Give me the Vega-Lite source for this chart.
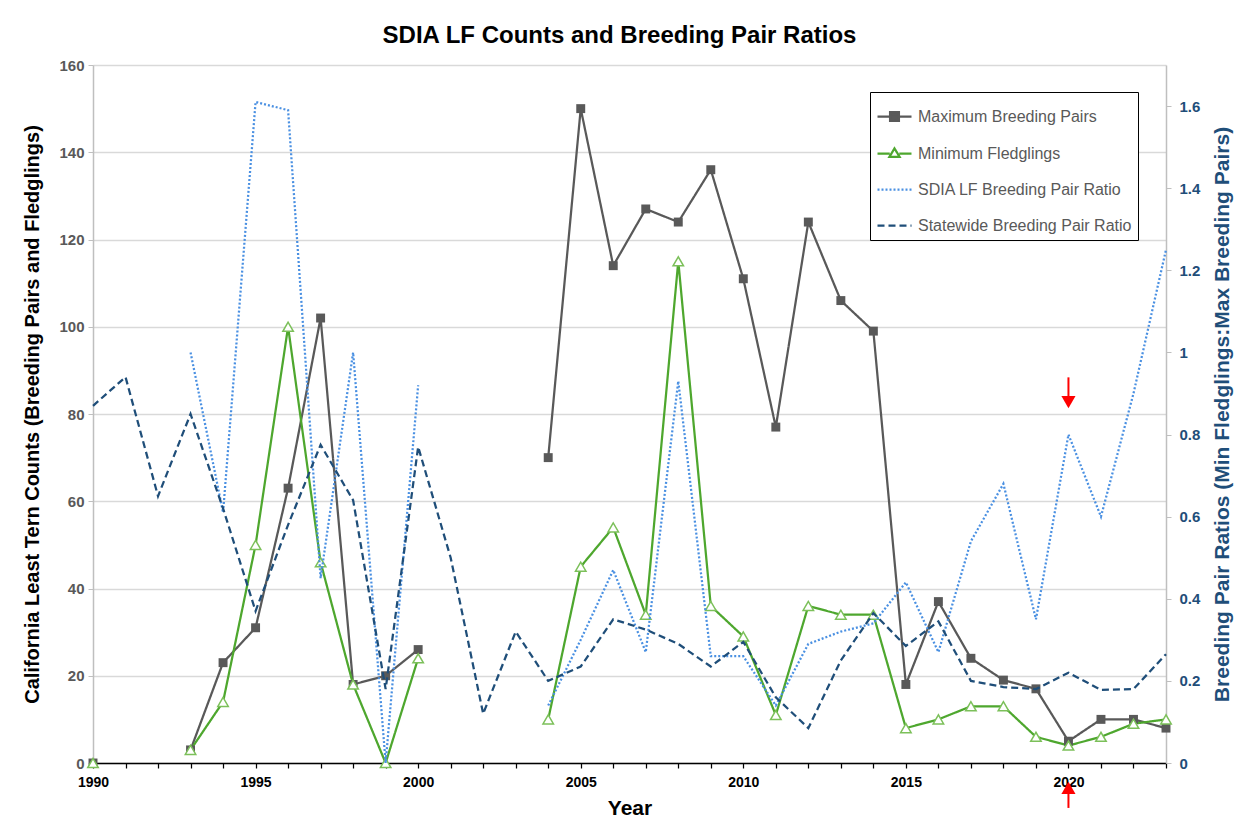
{
  "$schema": "https://vega.github.io/schema/vega-lite/v6.json",
  "width": 1073,
  "height": 698,
  "autosize": {"type": "none"},
  "padding": {"left": 93, "top": 65, "right": 78, "bottom": 71},
  "background": "white",
  "title": {"text": "SDIA LF Counts and Breeding Pair Ratios", "font": "Liberation Sans", "fontSize": 24, "fontWeight": "bold", "color": "#000000", "anchor": "middle", "offset": 10, "dx": -10},
  "config": {
    "view": {"stroke": null},
    "axis": {"labelFont": "Liberation Sans", "titleFont": "Liberation Sans"},
    "legend": {"labelFont": "Liberation Sans"}
  },
  "datasets": {
    "tern": [
      {"year": 1990, "pairs": 0, "fledg": 0, "sdia": null, "state": 0.87},
      {"year": 1991, "pairs": null, "fledg": null, "sdia": null, "state": 0.94},
      {"year": 1992, "pairs": null, "fledg": null, "sdia": null, "state": 0.65},
      {"year": 1993, "pairs": 3, "fledg": 3, "sdia": 1.0, "state": 0.85},
      {"year": 1994, "pairs": 23, "fledg": 14, "sdia": 0.61, "state": 0.62},
      {"year": 1995, "pairs": 31, "fledg": 50, "sdia": 1.61, "state": 0.37},
      {"year": 1996, "pairs": 63, "fledg": 100, "sdia": 1.59, "state": 0.58},
      {"year": 1997, "pairs": 102, "fledg": 46, "sdia": 0.45, "state": 0.775},
      {"year": 1998, "pairs": 18, "fledg": 18, "sdia": 1.0, "state": 0.64},
      {"year": 1999, "pairs": 20, "fledg": 0, "sdia": 0, "state": 0.18},
      {"year": 2000, "pairs": 26, "fledg": 24, "sdia": 0.92, "state": 0.77},
      {"year": 2001, "pairs": null, "fledg": null, "sdia": null, "state": 0.5},
      {"year": 2002, "pairs": null, "fledg": null, "sdia": null, "state": 0.12},
      {"year": 2003, "pairs": null, "fledg": null, "sdia": null, "state": 0.32},
      {"year": 2004, "pairs": 70, "fledg": 10, "sdia": 0.14, "state": 0.2},
      {"year": 2005, "pairs": 150, "fledg": 45, "sdia": 0.3, "state": 0.235},
      {"year": 2006, "pairs": 114, "fledg": 54, "sdia": 0.47, "state": 0.35},
      {"year": 2007, "pairs": 127, "fledg": 34, "sdia": 0.27, "state": 0.325},
      {"year": 2008, "pairs": 124, "fledg": 115, "sdia": 0.93, "state": 0.29},
      {"year": 2009, "pairs": 136, "fledg": 36, "sdia": 0.26, "state": 0.235},
      {"year": 2010, "pairs": 111, "fledg": 29, "sdia": 0.26, "state": 0.295},
      {"year": 2011, "pairs": 77, "fledg": 11, "sdia": 0.14, "state": 0.16},
      {"year": 2012, "pairs": 124, "fledg": 36, "sdia": 0.29, "state": 0.085},
      {"year": 2013, "pairs": 106, "fledg": 34, "sdia": 0.32, "state": 0.25},
      {"year": 2014, "pairs": 99, "fledg": 34, "sdia": 0.34, "state": 0.365},
      {"year": 2015, "pairs": 18, "fledg": 8, "sdia": 0.44, "state": 0.285},
      {"year": 2016, "pairs": 37, "fledg": 10, "sdia": 0.27, "state": 0.345},
      {"year": 2017, "pairs": 24, "fledg": 13, "sdia": 0.54, "state": 0.2},
      {"year": 2018, "pairs": 19, "fledg": 13, "sdia": 0.68, "state": 0.185},
      {"year": 2019, "pairs": 17, "fledg": 6, "sdia": 0.35, "state": 0.18},
      {"year": 2020, "pairs": 5, "fledg": 4, "sdia": 0.8, "state": 0.22},
      {"year": 2021, "pairs": 10, "fledg": 6, "sdia": 0.6, "state": 0.178},
      {"year": 2022, "pairs": 10, "fledg": 9, "sdia": 0.9, "state": 0.18},
      {"year": 2023, "pairs": 8, "fledg": 10, "sdia": 1.25, "state": 0.265}
    ],
    "arrows": [
      {"year": 2020, "tail1": 88.4, "tail2": 84, "head": 82.7, "dir": "down"},
      {"year": 2020, "tail1": -7, "tail2": -10.3, "head": -5.7, "dir": "up"}
    ]
  },
  "data": {"name": "tern"},
  "encoding": {
    "x": {
      "field": "year", "type": "quantitative",
      "scale": {"domain": [1990, 2023], "nice": false, "zero": false},
      "axis": {
        "values": [1990,1991,1992,1993,1994,1995,1996,1997,1998,1999,2000,2001,2002,2003,2004,2005,2006,2007,2008,2009,2010,2011,2012,2013,2014,2015,2016,2017,2018,2019,2020,2021,2022,2023],
        "format": "d",
        "labelExpr": "datum.value % 5 === 0 ? datum.label : ''",
        "labelOverlap": false, "labelFlush": false,
        "labelFontSize": 14, "labelFontWeight": "bold", "labelColor": "#000000", "labelPadding": 7,
        "domainColor": "#000000", "domainWidth": 1.5,
        "tickColor": "#000000", "tickSize": 5, "tickWidth": 1.25,
        "grid": false,
        "title": "Year", "titleFontSize": 21, "titleFontWeight": "bold", "titleColor": "#000000", "titlePadding": 8
      }
    }
  },
  "layer": [
    {
      "layer": [
        {
          "transform": [{"fold": ["pairs", "fledg"], "as": ["series", "value"]}],
          "mark": {"type": "line", "strokeWidth": 2.25, "invalid": "break-paths-filter-domains"},
          "encoding": {
            "y": {
              "field": "value", "type": "quantitative",
              "title": "California Least Tern Counts (Breeding Pairs and Fledglings)",
              "scale": {"domain": [0, 160], "nice": false},
              "axis": {
                "orient": "left", "values": [0,20,40,60,80,100,120,140,160],
                "labelFontSize": 15, "labelFontWeight": "bold", "labelColor": "#595959", "labelPadding": 4,
                "tickColor": "#BFBFBF", "tickSize": 5,
                "domainColor": "#BFBFBF", "domainWidth": 1.5,
                "grid": true, "gridColor": "#D9D9D9", "gridWidth": 1.5,
                "titleFontSize": 20, "titleFontWeight": "bold", "titleColor": "#000000", "titlePadding": 16
              }
            },
            "color": {
              "field": "series", "type": "nominal",
              "scale": {"domain": ["pairs", "fledg", "sdia", "state"], "range": ["#595959", "#4EA72E", "#4A90E2", "#1F4E79"]},
              "legend": {
                "title": null, "orient": "none", "legendX": 777, "legendY": 27, "direction": "vertical",
                "strokeColor": "#000000", "fillColor": "#ffffff", "padding": 6,
                "labelFontSize": 16, "labelColor": "#595959", "labelOffset": 5, "labelLimit": 400,
                "symbolSize": 1156, "symbolStrokeWidth": 2.25, "symbolType": "stroke", "rowPadding": 9,
                "labelExpr": "datum.label == 'pairs' ? 'Maximum Breeding Pairs' : datum.label == 'fledg' ? 'Minimum Fledglings' : datum.label == 'sdia' ? 'SDIA LF Breeding Pair Ratio' : 'Statewide Breeding Pair Ratio'",
                "encode": {"symbols": {"update": {
                  "shape": {"signal": "datum.value == 'pairs' ? 'M-1,0H1M-0.26,-0.26H0.26V0.26H-0.26Z' : datum.value == 'fledg' ? 'M-1,0H-0.28M0.28,0H1M0,-0.3L0.3,0.2L-0.3,0.2Z' : 'stroke'"},
                  "fill": {"signal": "datum.value == 'pairs' ? '#595959' : datum.value == 'fledg' ? '#ffffff' : 'transparent'"}
                }}}
              }
            },
            "strokeDash": {
              "field": "series", "type": "nominal",
              "scale": {"domain": ["pairs", "fledg", "sdia", "state"], "range": [[1, 0], [1, 0], [2, 2], [7, 4]]},
              "legend": {
                "title": null, "orient": "none", "legendX": 777, "legendY": 27, "direction": "vertical",
                "strokeColor": "#000000", "fillColor": "#ffffff", "padding": 6,
                "labelFontSize": 16, "labelColor": "#595959", "labelOffset": 5, "labelLimit": 400,
                "symbolSize": 1156, "symbolStrokeWidth": 2.25, "symbolType": "stroke", "rowPadding": 9,
                "labelExpr": "datum.label == 'pairs' ? 'Maximum Breeding Pairs' : datum.label == 'fledg' ? 'Minimum Fledglings' : datum.label == 'sdia' ? 'SDIA LF Breeding Pair Ratio' : 'Statewide Breeding Pair Ratio'",
                "encode": {"symbols": {"update": {
                  "shape": {"signal": "datum.value == 'pairs' ? 'M-1,0H1M-0.26,-0.26H0.26V0.26H-0.26Z' : datum.value == 'fledg' ? 'M-1,0H-0.28M0.28,0H1M0,-0.3L0.3,0.2L-0.3,0.2Z' : 'stroke'"},
                  "fill": {"signal": "datum.value == 'pairs' ? '#595959' : datum.value == 'fledg' ? '#ffffff' : 'transparent'"}
                }}}
              }
            }
          }
        },
        {
          "mark": {"type": "point", "shape": "square", "filled": true, "color": "#595959", "size": 80, "opacity": 1},
          "encoding": {
            "y": {"field": "pairs", "type": "quantitative", "title": "California Least Tern Counts (Breeding Pairs and Fledglings)"}
          }
        },
        {
          "mark": {"type": "point", "shape": "triangle-up", "filled": false, "fill": "#ffffff", "fillOpacity": 1, "stroke": "#7CC05A", "strokeWidth": 1.5, "size": 110, "opacity": 1},
          "encoding": {
            "y": {"field": "fledg", "type": "quantitative", "title": "California Least Tern Counts (Breeding Pairs and Fledglings)"}
          }
        },
        {
          "data": {"name": "arrows"},
          "mark": {"type": "rule", "color": "#FF0000", "strokeWidth": 2},
          "encoding": {
            "y": {"field": "tail1", "type": "quantitative", "title": "California Least Tern Counts (Breeding Pairs and Fledglings)"},
            "y2": {"field": "tail2"}
          }
        },
        {
          "data": {"name": "arrows"},
          "mark": {"type": "point", "filled": true, "color": "#FF0000", "size": 200, "opacity": 1},
          "encoding": {
            "y": {"field": "head", "type": "quantitative", "title": "California Least Tern Counts (Breeding Pairs and Fledglings)"},
            "shape": {"field": "dir", "type": "nominal", "scale": {"domain": ["down", "up"], "range": ["triangle-down", "triangle-up"]}, "legend": null}
          }
        }
      ]
    },
    {
      "transform": [{"fold": ["sdia", "state"], "as": ["series", "value"]}],
      "mark": {"type": "line", "strokeWidth": 2.25, "invalid": "break-paths-filter-domains"},
      "encoding": {
        "y": {
          "field": "value", "type": "quantitative",
          "title": "Breeding Pair Ratios (Min Fledglings:Max Breeding Pairs)",
          "scale": {"domain": [0, 1.7], "nice": false},
          "axis": {
            "orient": "right", "values": [0, 0.2, 0.4, 0.6, 0.8, 1, 1.2, 1.4, 1.6], "format": "~g",
            "labelFontSize": 15, "labelFontWeight": "bold", "labelColor": "#1F4E79", "labelPadding": 8,
            "tickColor": "#BFBFBF", "tickSize": 5,
            "domainColor": "#BFBFBF", "domainWidth": 1.5,
            "grid": false,
            "titleFontSize": 21, "titleFontWeight": "bold", "titleColor": "#1F4E79", "titlePadding": 12, "titleAngle": 270, "titleBaseline": "top"
          }
        },
        "color": {
          "field": "series", "type": "nominal",
          "scale": {"domain": ["pairs", "fledg", "sdia", "state"], "range": ["#595959", "#4EA72E", "#4A90E2", "#1F4E79"]},
          "legend": {
            "title": null, "orient": "none", "legendX": 777, "legendY": 27, "direction": "vertical",
            "strokeColor": "#000000", "fillColor": "#ffffff", "padding": 6,
            "labelFontSize": 16, "labelColor": "#595959", "labelOffset": 5, "labelLimit": 400,
            "symbolSize": 1156, "symbolStrokeWidth": 2.25, "symbolType": "stroke", "rowPadding": 9,
            "labelExpr": "datum.label == 'pairs' ? 'Maximum Breeding Pairs' : datum.label == 'fledg' ? 'Minimum Fledglings' : datum.label == 'sdia' ? 'SDIA LF Breeding Pair Ratio' : 'Statewide Breeding Pair Ratio'",
            "encode": {"symbols": {"update": {
              "shape": {"signal": "datum.value == 'pairs' ? 'M-1,0H1M-0.26,-0.26H0.26V0.26H-0.26Z' : datum.value == 'fledg' ? 'M-1,0H-0.28M0.28,0H1M0,-0.3L0.3,0.2L-0.3,0.2Z' : 'stroke'"},
              "fill": {"signal": "datum.value == 'pairs' ? '#595959' : datum.value == 'fledg' ? '#ffffff' : 'transparent'"}
            }}}
          }
        },
        "strokeDash": {
          "field": "series", "type": "nominal",
          "scale": {"domain": ["pairs", "fledg", "sdia", "state"], "range": [[1, 0], [1, 0], [2, 2], [7, 4]]},
          "legend": {
            "title": null, "orient": "none", "legendX": 777, "legendY": 27, "direction": "vertical",
            "strokeColor": "#000000", "fillColor": "#ffffff", "padding": 6,
            "labelFontSize": 16, "labelColor": "#595959", "labelOffset": 5, "labelLimit": 400,
            "symbolSize": 1156, "symbolStrokeWidth": 2.25, "symbolType": "stroke", "rowPadding": 9,
            "labelExpr": "datum.label == 'pairs' ? 'Maximum Breeding Pairs' : datum.label == 'fledg' ? 'Minimum Fledglings' : datum.label == 'sdia' ? 'SDIA LF Breeding Pair Ratio' : 'Statewide Breeding Pair Ratio'",
            "encode": {"symbols": {"update": {
              "shape": {"signal": "datum.value == 'pairs' ? 'M-1,0H1M-0.26,-0.26H0.26V0.26H-0.26Z' : datum.value == 'fledg' ? 'M-1,0H-0.28M0.28,0H1M0,-0.3L0.3,0.2L-0.3,0.2Z' : 'stroke'"},
              "fill": {"signal": "datum.value == 'pairs' ? '#595959' : datum.value == 'fledg' ? '#ffffff' : 'transparent'"}
            }}}
          }
        }
      }
    }
  ],
  "resolve": {"scale": {"y": "independent"}}
}
